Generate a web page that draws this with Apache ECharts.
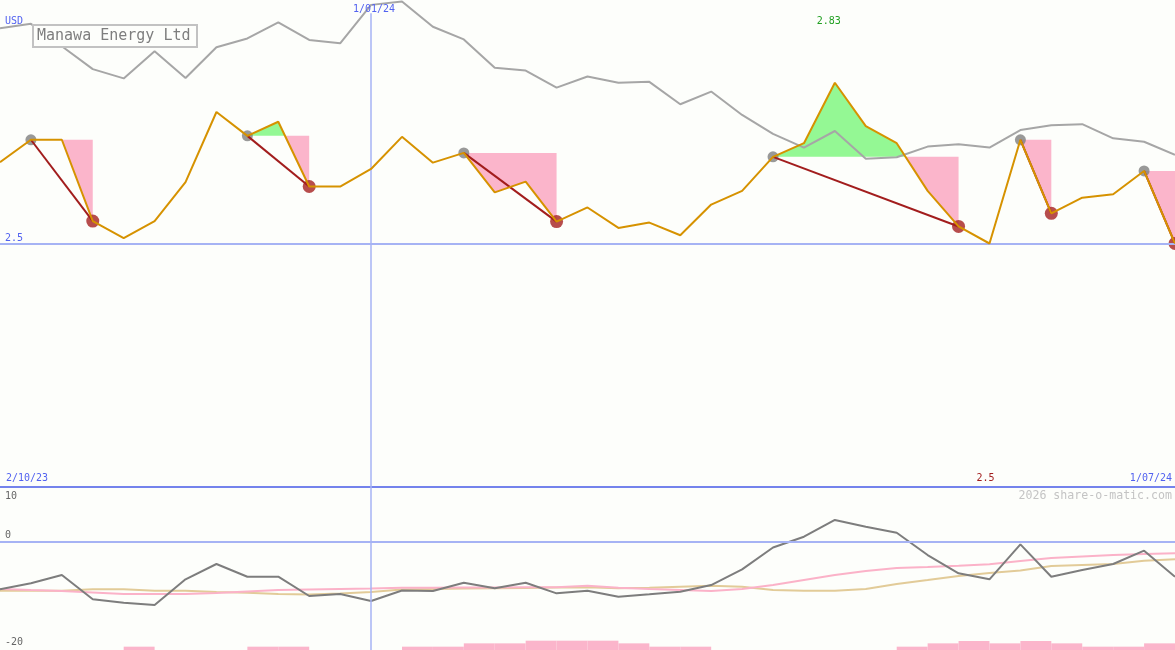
<!DOCTYPE html>
<html><head><meta charset="utf-8">
<script src="https://cdn.jsdelivr.net/npm/echarts@6/dist/echarts.min.js"></script>
<style>html,body{margin:0;padding:0;background:#fdfefb}#c{width:1175px;height:650px}</style>
</head><body><div id="c"></div><script>
// ---- data (weekly points, index 0 = 2/10/23, index 38 = 1/07/24) ----
const price = [2.667, 2.713, 2.713, 2.546, 2.511, 2.546, 2.626, 2.770, 2.721, 2.750,
  2.617, 2.617, 2.653, 2.719, 2.666, 2.686, 2.605, 2.627, 2.545, 2.574,
  2.532, 2.543, 2.517, 2.580, 2.608, 2.678, 2.706, 2.830, 2.741, 2.706,
  2.608, 2.535, 2.500, 2.713, 2.562, 2.594, 2.601, 2.649, 2.500];
const compare = [2.942, 2.951, 2.905, 2.858, 2.839, 2.895, 2.840, 2.903, 2.921, 2.954,
  2.918, 2.911, 2.990, 2.997, 2.945, 2.919, 2.861, 2.855, 2.820, 2.843,
  2.830, 2.832, 2.786, 2.812, 2.764, 2.725, 2.697, 2.731, 2.674, 2.677,
  2.699, 2.704, 2.697, 2.733, 2.743, 2.745, 2.716, 2.709, 2.682];
const osc = [-8.83, -7.73, -6.20, -10.67, -11.30, -11.72, -6.99, -4.17, -6.51, -6.51,
  -10.06, -9.69, -10.98, -9.05, -9.14, -7.61, -8.65, -7.61, -9.57, -9.09,
  -10.19, -9.75, -9.27, -8.04, -5.15, -1.14, 0.85, 3.93, 2.69, 1.59,
  -2.52, -5.88, -6.99, -0.55, -6.51, -5.28, -4.17, -1.72, -6.51];
const oscPink = [-8.77, -8.96, -9.14, -9.42, -9.69, -9.69, -9.69, -9.51, -9.23, -8.96,
  -8.87, -8.77, -8.68, -8.56, -8.56, -8.50, -8.50, -8.46, -8.46, -8.17,
  -8.56, -8.77, -8.96, -9.14, -8.77, -8.04, -7.12, -6.20, -5.46, -4.91,
  -4.72, -4.49, -4.23, -3.62, -3.07, -2.79, -2.52, -2.33, -2.20];
const oscTan = [-9.09, -9.09, -9.09, -8.83, -8.83, -9.09, -9.09, -9.33, -9.46, -9.69,
  -9.78, -9.60, -9.33, -8.87, -8.77, -8.68, -8.65, -8.59, -8.50, -8.46,
  -8.65, -8.53, -8.35, -8.17, -8.35, -8.96, -9.09, -9.09, -8.77, -7.85,
  -7.12, -6.38, -5.83, -5.37, -4.54, -4.36, -4.17, -3.56, -3.31];
// volume per week interval (between point i and i+1)
const volume = [0, 0, 0, 0, 10, 0, 0, 0, 10, 10,
  0, 0, 0, 10, 10, 20, 20, 28, 28, 28,
  20, 10, 10, 0, 0, 0, 0, 0, 0, 10,
  20, 27, 20, 27, 20, 10, 10, 20];
const peaks = [1, 8, 15, 25, 33, 37];
const troughs = [3, 10, 18, 31, 34, 38];
const tickIdx = [0, 12, 38];
const tickLabels = ['2/10/23', '1/01/24', '1/07/24'];
const refLevel = 2.5;
const title = 'Manawa Energy Ltd';

// ---- chart ----
const FONT = '"DejaVu Sans Mono", monospace';
const BLUE = '#5262f0';
const PINK = '#fbb5cb';
const GREEN = '#94f894';
const chart = echarts.init(document.getElementById('c'));
const idx = a => a.map((v, i) => [i, v]);

function renderFill(params, api) {
  const k = api.value(0);
  const p = peaks[k], t = troughs[k], L = price[p];
  const pts = [[p, price[p]]];
  for (let i = p; i < t; i++) {
    const d0 = price[i] - L, d1 = price[i + 1] - L;
    if (d0 * d1 < 0) pts.push([i + d0 / (d0 - d1), L]);
    pts.push([i + 1, price[i + 1]]);
  }
  const children = [];
  const poly = (xs, run, xe, s) => ({
    type: 'polygon',
    shape: { points: [[xs, L]].concat(run, [[xe, L]]).map(c => api.coord(c)) },
    style: { fill: s > 0 ? GREEN : PINK }
  });
  let run = [], start = p, sign = 0;
  for (let j = 1; j < pts.length; j++) {
    const [x, y] = pts[j];
    const s = Math.abs(y - L) < 1e-9 ? 0 : Math.sign(y - L);
    if (s === 0) {
      if (run.length) children.push(poly(start, run, x, sign));
      run = []; start = x; sign = 0;
    } else { run.push([x, y]); sign = s; }
  }
  if (run.length) children.push(poly(start, run, t, sign));
  return { type: 'group', children };
}
function renderPT(params, api) {
  const k = api.value(0);
  const a = api.coord([peaks[k], price[peaks[k]]]);
  const b = api.coord([troughs[k], price[troughs[k]]]);
  return { type: 'line', shape: { x1: a[0], y1: a[1], x2: b[0], y2: b[1] },
    style: { stroke: '#a21d1d', lineWidth: 2 } };
}
function renderVol(params, api) {
  const i = api.value(0), v = api.value(1);
  const a = api.coord([i, v]), b = api.coord([i + 1, 0]);
  return { type: 'rect', shape: { x: a[0], y: a[1], width: b[0] - a[0], height: b[1] - a[1] },
    style: { fill: PINK } };
}

const option = {
  animation: false,
  backgroundColor: '#fdfefb',
  grid: [
    { left: 0, right: 0, top: 0, height: 487 },
    { left: 0, right: 0, top: 487, height: 163 }
  ],
  xAxis: [
    { type: 'value', gridIndex: 0, min: 0, max: 38, position: 'bottom',
      axisLine: { show: true, onZero: false, lineStyle: { color: '#7483ec', width: 2 } },
      axisTick: { show: false }, axisLabel: { show: false }, splitLine: { show: false } },
    { type: 'value', gridIndex: 1, min: 0, max: 38, show: false }
  ],
  yAxis: [
    { type: 'value', gridIndex: 0, min: 2, max: 3, show: false },
    { type: 'value', gridIndex: 1, min: -20, max: 10, show: false },
    { type: 'value', gridIndex: 1, min: 0, max: 490, show: false }
  ],
  series: [
    { type: 'custom', name: 'fills', xAxisIndex: 0, yAxisIndex: 0, z: 1, silent: true,
      renderItem: renderFill, data: peaks.map((p, k) => [k]) },
    { type: 'line', name: 'compare', xAxisIndex: 0, yAxisIndex: 0, z: 2, symbol: 'none',
      data: idx(compare), lineStyle: { color: '#a6a6a6', width: 2 },
      markLine: { silent: true, symbol: ['none', 'none'], label: { show: false },
        data: [
          { yAxis: refLevel, lineStyle: { color: '#a6b3f4', width: 2, type: 'solid' } },
          [{ coord: [tickIdx[1], 2], lineStyle: { color: '#a6b3f4', width: 1.5, type: 'solid' } },
           { coord: [tickIdx[1], 2.973] }]
        ] } },
    { type: 'scatter', name: 'peaks', xAxisIndex: 0, yAxisIndex: 0, z: 3, symbolSize: 11,
      itemStyle: { color: '#808080' }, data: peaks.map(p => [p, price[p]]) },
    { type: 'scatter', name: 'troughs', xAxisIndex: 0, yAxisIndex: 0, z: 3, symbolSize: 13,
      itemStyle: { color: '#a52020' }, data: troughs.map(t => [t, price[t]]) },
    { type: 'custom', name: 'pt', xAxisIndex: 0, yAxisIndex: 0, z: 4, silent: true,
      renderItem: renderPT, data: peaks.map((p, k) => [k]) },
    { type: 'line', name: 'price', xAxisIndex: 0, yAxisIndex: 0, z: 5, symbol: 'none',
      data: idx(price), lineStyle: { color: '#d69200', width: 2 } },
    // lower panel
    { type: 'custom', name: 'volume', xAxisIndex: 1, yAxisIndex: 2, z: 1, silent: true,
      renderItem: renderVol, data: idx(volume) },
    { type: 'line', name: 'tan', xAxisIndex: 1, yAxisIndex: 1, z: 2, symbol: 'none',
      data: idx(oscTan), lineStyle: { color: '#e2cb98', width: 2 },
      markLine: { silent: true, symbol: ['none', 'none'], label: { show: false },
        data: [
          { yAxis: 0, lineStyle: { color: '#a6b3f4', width: 2, type: 'solid' } },
          { xAxis: tickIdx[1], lineStyle: { color: '#a6b3f4', width: 1.5, type: 'solid' } }
        ] } },
    { type: 'line', name: 'pink', xAxisIndex: 1, yAxisIndex: 1, z: 3, symbol: 'none',
      data: idx(oscPink), lineStyle: { color: '#fbb2c8', width: 2 } },
    { type: 'line', name: 'osc', xAxisIndex: 1, yAxisIndex: 1, z: 4, symbol: 'none',
      data: idx(osc), lineStyle: { color: '#7d7d7d', width: 2 } }
  ]
};
chart.setOption(option);

// ---- text annotations ----
let iMax = 0, iMin = 0;
price.forEach((v, i) => { if (v > price[iMax]) iMax = i; if (v < price[iMin]) iMin = i; });
const fmt = v => String(+v.toFixed(3));
const pxMax = chart.convertToPixel({ gridIndex: 0 }, [iMax, price[iMax]]);
const pxMin = chart.convertToPixel({ gridIndex: 0 }, [iMin, price[iMin]]);
const pxTick = tickIdx.map(i => chart.convertToPixel({ gridIndex: 0 }, [i, 2])[0]);
const pxRef = chart.convertToPixel({ gridIndex: 0 }, [0, refLevel])[1];
const pxZero = chart.convertToPixel({ gridIndex: 1 }, [0, 0])[1];
const T = (x, y, text, fill, size, align, extra) => Object.assign({
  type: 'text', x, y, z: 100, silent: true,
  style: { text, fill, font: `${size}px ${FONT}`, align: align || 'left', verticalAlign: 'middle' }
}, extra || {});
chart.setOption({
  graphic: [
    { type: 'rect', z: 99, silent: true, shape: { x: 33, y: 25, width: 164, height: 22 },
      style: { fill: '#fdfefb', stroke: '#c2c2c2', lineWidth: 2 } },
    T(37, 36.5, title, '#7e7e7e', 15),
    T(5, 21.5, 'USD', BLUE, 10),
    T(pxTick[1] + 3, 9, tickLabels[1], BLUE, 10, 'center'),
    T(5, pxRef - 5.5, fmt(refLevel), BLUE, 10),
    T(6, 478, tickLabels[0], BLUE, 10),
    T(pxTick[2] - 3, 478, tickLabels[2], BLUE, 10, 'right'),
    T(pxMax[0] + 6, 21, fmt(price[iMax]), '#22a022', 10, 'right'),
    T(pxMin[0] + 5, 478, fmt(price[iMin]), '#a21d1d', 10, 'right'),
    T(1172, 496, '2026 share-o-matic.com', '#c4c4c4', 11.6, 'right'),
    T(5, 496.5, '10', '#666666', 10),
    T(5, pxZero - 5.5, '0', '#666666', 10),
    T(5, 642, '-20', '#666666', 10)
  ]
});
</script></body></html>
